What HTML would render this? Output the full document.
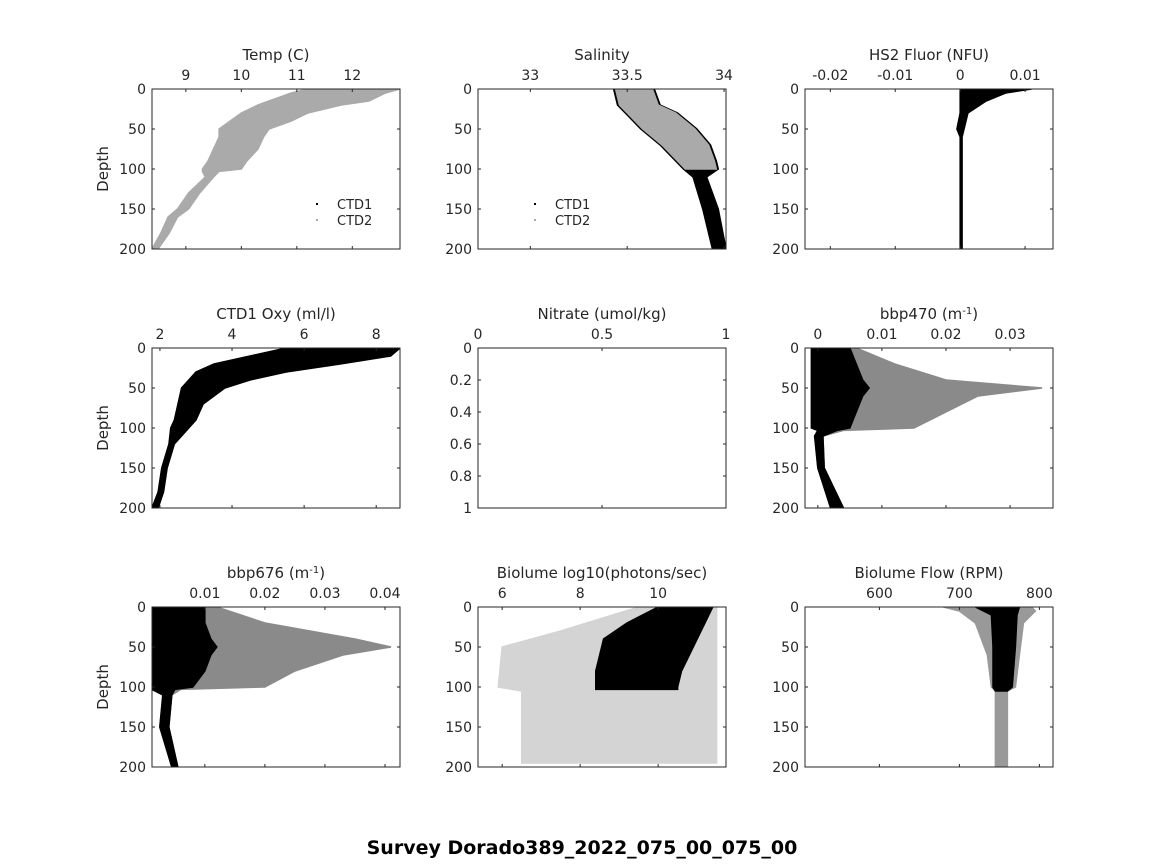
<!DOCTYPE html>
<html><head><meta charset="utf-8"><style>
body{margin:0;background:#fff;font-family:"DejaVu Sans","Liberation Sans",sans-serif}
svg text{font-family:"DejaVu Sans","Liberation Sans",sans-serif}
</style></head><body>
<svg id="fig" width="1164" height="864" xmlns="http://www.w3.org/2000/svg">
<rect width="1164" height="864" fill="#fff"/>
<text x="582" y="854" text-anchor="middle" font-size="19" font-weight="bold">Survey Dorado389_2022_075_00_075_00</text>
</svg>
<script>
// ---- data ----
const tempDepth=[0,5,15,20,30,40,50,60,75,90,100,103,110,130,150,160,180,200];
const tempLo=[11.2,10.9,10.5,10.3,10.0,9.8,9.6,9.6,9.5,9.4,9.3,9.3,9.35,9.05,8.85,8.68,8.55,8.39];
const tempHi=[12.86,12.6,12.3,11.8,11.2,10.9,10.5,10.4,10.3,10.1,10.0,9.6,9.5,9.25,9.05,8.85,8.7,8.5];
const salDepth=[0,20,30,50,70,90,100,110,150,200];
const salLo=[33.44,33.46,33.5,33.58,33.68,33.76,33.8,33.85,33.9,33.95];
const salHi=[33.63,33.66,33.75,33.85,33.92,33.95,33.96,33.9,33.96,34.0];
const fluDepth=[0,5,15,30,50,60,200];
const fluLo=[0,0,0,0,-0.0005,0,0];
const fluHi=[0.011,0.007,0.004,0.0012,0.0006,0.0003,0.0003];
const oxyDepth=[0,10,20,30,40,50,70,90,100,120,150,180,200];
const oxyLo=[5.5,4.5,3.5,3.0,2.8,2.6,2.5,2.4,2.3,2.25,2.05,1.95,1.78];
const oxyHi=[8.66,8.4,7.0,5.5,4.5,3.8,3.2,3.0,2.8,2.4,2.2,2.1,1.95];
const b470Depth=[0,20,40,50,60,80,100,103,110,150,200];
const b470Lo=[-0.001,-0.001,-0.001,-0.001,-0.001,-0.001,-0.001,0,-0.0005,0,0.002];
const b470Core=[0.005,0.006,0.007,0.008,0.007,0.006,0.005,0.003,0.0008,0.001,0.004];
const b470Hi=[0.006,0.012,0.02,0.035,0.025,0.02,0.015,0.004,0.0008,0.001,0.004];
const b676Depth=[0,20,40,50,60,80,100,103,110,150,200];
const b676Lo=[0.0012,0.0012,0.0012,0.0012,0.0012,0.0012,0.0012,0.0012,0.003,0.0025,0.0045];
const b676Core=[0.01,0.01,0.011,0.012,0.011,0.01,0.008,0.005,0.0045,0.004,0.0055];
const b676Hi=[0.012,0.02,0.035,0.041,0.033,0.025,0.02,0.006,0.0045,0.004,0.0055];
const bioDepth=[0,20,40,60,80,100,103];
const bioLo=[10,9.2,8.6,8.5,8.4,8.4,8.4];
const bioHi=[11.4,11.2,11.0,10.8,10.6,10.5,10.5];
const bioSparseDepth=[0,30,50,100,105,195];
const bioSparseLo=[9.5,7.5,6.0,5.9,6.5,6.5];
const bioSparseHi=[11.5,11.5,11.5,11.5,11.5,11.5];
const flowDepth=[0,10,50,100,105];
const flowLo=[720,740,742,742,745];
const flowHi=[775,772,770,766,760];
const flowSparseDepth=[0,5,20,60,100,105,200];
const flowSparseLo=[680,700,720,735,740,745,745];
const flowSparseHi=[790,795,780,775,770,760,760];
const depthTicks=[0,50,100,150,200];
const nitTicks=[0,0.2,0.4,0.6,0.8,1];

const svg=document.getElementById('fig');
const NS='http://www.w3.org/2000/svg';
function el(tag,attrs,parent){const e=document.createElementNS(NS,tag);for(const k in attrs)e.setAttribute(k,attrs[k]);(parent||svg).appendChild(e);return e;}
function txt(x,y,s,attrs,parent){const t=el('text',Object.assign({x:x,y:y,'font-size':14,fill:'#262626'},attrs||{}),parent);t.textContent=s;return t;}

const cols=[152,478,805], rows=[89,348,607], W=248, H=160;
function panel(cfg){
  const x0=cols[cfg.c], y0=rows[cfg.r];
  const g=el('g',{});
  
  
  const sx=v=>x0+(v-cfg.xr[0])/(cfg.xr[1]-cfg.xr[0])*W;
  const yr=cfg.yr||[0,200];
  const sy=d=>y0+(d-yr[0])/(yr[1]-yr[0])*H;
  const clip='clip'+cfg.name;
  const cp=el('clipPath',{id:clip},g);el('rect',{x:x0,y:y0,width:W,height:H},cp);
  const dg=el('g',{'clip-path':'url(#'+clip+')'},g);
  (cfg.bands||[]).forEach(b=>{
    let pts=[];
    for(let i=0;i<b.d.length;i++)pts.push(sx(b.lo[i])+','+sy(b.d[i]));
    for(let i=b.d.length-1;i>=0;i--)pts.push(sx(b.hi[i])+','+sy(b.d[i]));
    const p=el('polygon',{points:pts.join(' '),fill:b.fill,stroke:b.fill,'stroke-width':1.5},dg);
    
    
  });
  const box=el('rect',{x:x0,y:y0,width:W,height:H,fill:'none',stroke:'#262626','stroke-width':1},g);
  
  
  cfg.xt.forEach((v,i)=>{const x=sx(v);
    el('line',{x1:x,y1:y0,x2:x,y2:y0+3,stroke:'#262626'},g);
    el('line',{x1:x,y1:y0+H,x2:x,y2:y0+H-3,stroke:'#262626'},g);
    const t=txt(x,y0-9,cfg.xl[i],{'text-anchor':'middle'},g);
    
    });
  const yt=cfg.yt||depthTicks;
  yt.forEach(v=>{const y=sy(v);
    el('line',{x1:x0,y1:y,x2:x0+3,y2:y,stroke:'#262626'},g);
    el('line',{x1:x0+W,y1:y,x2:x0+W-3,y2:y,stroke:'#262626'},g);
    const t=txt(x0-6,y+5,String(v),{'text-anchor':'end'},g);
    
    });
  const tt=txt(x0+W/2,y0-29,'',{'text-anchor':'middle','font-size':15},g);
  tt.innerHTML=cfg.title;
  
  
  if(cfg.c===0){const yl=txt(0,0,'Depth',{'text-anchor':'middle','font-size':15,transform:'translate('+(x0-44)+','+(y0+H/2)+') rotate(-90)'},g);
    
    }
  if(cfg.legend){const lx=x0+cfg.legend;
    el('rect',{x:lx-1,y:y0+114,width:2,height:2,fill:'#000'},g);
    el('rect',{x:lx-1,y:y0+130,width:2,height:2,fill:'#aaa'},g);
    const a=txt(lx+20,y0+120,'CTD1',{'font-size':13},g);
    const b=txt(lx+20,y0+136,'CTD2',{'font-size':13},g);}
}
panel({name:'temp-panel',r:0,c:0,xr:[8.39,12.86],xt:[9,10,11,12],xl:['9','10','11','12'],title:'Temp (C)',legend:165,
  bands:[{d:tempDepth,lo:tempLo,hi:tempHi,fill:'#aaaaaa',name:'temp-ctd2'}]});
panel({name:'salinity-panel',r:0,c:1,xr:[32.73,34.01],xt:[33,33.5,34],xl:['33','33.5','34'],title:'Salinity',legend:57,
  bands:[{d:salDepth,lo:salLo.map(v=>v-0.01),hi:salHi.map(v=>v+0.01),fill:'#000',name:'sal-ctd1'},{d:salDepth.slice(0,7),lo:salLo.slice(0,7),hi:salHi.slice(0,7),fill:'#aaaaaa',name:'sal-ctd2'}]});
panel({name:'fluor-panel',r:0,c:2,xr:[-0.0239,0.0143],xt:[-0.02,-0.01,0,0.01],xl:['-0.02','-0.01','0','0.01'],title:'HS2 Fluor (NFU)',
  bands:[{d:fluDepth,lo:fluLo,hi:fluHi,fill:'#000',name:'fluor'}]});
panel({name:'oxy-panel',r:1,c:0,xr:[1.78,8.66],xt:[2,4,6,8],xl:['2','4','6','8'],title:'CTD1 Oxy (ml/l)',
  bands:[{d:oxyDepth,lo:oxyLo,hi:oxyHi,fill:'#000',name:'oxy'}]});
panel({name:'nitrate-panel',r:1,c:1,xr:[0,1],xt:[0,0.5,1],xl:['0','0.5','1'],title:'Nitrate (umol/kg)',yr:[0,1],yt:nitTicks});
panel({name:'bbp470-panel',r:1,c:2,xr:[-0.002,0.0367],xt:[0,0.01,0.02,0.03],xl:['0','0.01','0.02','0.03'],title:'bbp470 (m<tspan baseline-shift="super" font-size="10">-1</tspan>)',
  bands:[{d:b470Depth,lo:b470Lo,hi:b470Hi,fill:'#8a8a8a',name:'bbp470-spread'},{d:b470Depth,lo:b470Lo,hi:b470Core,fill:'#000',name:'bbp470-core'}]});
panel({name:'bbp676-panel',r:2,c:0,xr:[0.0012,0.0425],xt:[0.01,0.02,0.03,0.04],xl:['0.01','0.02','0.03','0.04'],title:'bbp676 (m<tspan baseline-shift="super" font-size="10">-1</tspan>)',
  bands:[{d:b676Depth,lo:b676Lo,hi:b676Hi,fill:'#8a8a8a',name:'bbp676-spread'},{d:b676Depth,lo:b676Lo,hi:b676Core,fill:'#000',name:'bbp676-core'}]});
panel({name:'biolume-panel',r:2,c:1,xr:[5.38,11.74],xt:[6,8,10],xl:['6','8','10'],title:'Biolume log10(photons/sec)',
  bands:[{d:bioSparseDepth,lo:bioSparseLo,hi:bioSparseHi,fill:'#d4d4d4',name:'biolume-sparse'},{d:bioDepth,lo:bioLo,hi:bioHi,fill:'#000',name:'biolume-core'}]});
panel({name:'flow-panel',r:2,c:2,xr:[507,817],xt:[600,700,800],xl:['600','700','800'],title:'Biolume Flow (RPM)',
  bands:[{d:flowSparseDepth,lo:flowSparseLo,hi:flowSparseHi,fill:'#999',name:'flow-sparse'},{d:flowDepth,lo:flowLo,hi:flowHi,fill:'#000',name:'flow-core'}]});
</script>
</body></html>
